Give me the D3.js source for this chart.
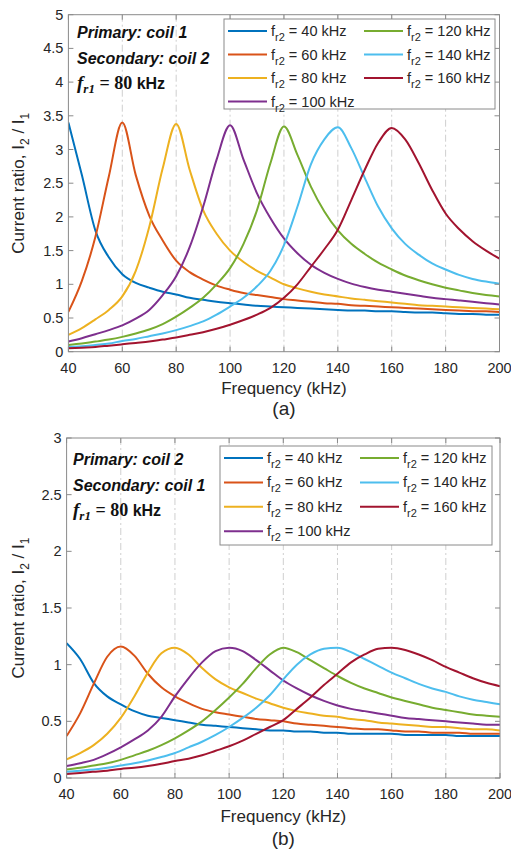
<!DOCTYPE html>
<html lang="en">
<head>
<meta charset="utf-8">
<title>Current ratio vs frequency</title>
<script src="https://cdn.jsdelivr.net/npm/d3@7"></script>
<style>
  body { margin: 0; background: #fff; }
  svg { display: block; font-family: "Liberation Sans", Arial, sans-serif; }
</style>
</head>
<body>
<div id="chart"></div>
<script>
// ---- data
const freq = [40,45,50,55,60,65,70,75,80,85,90,95,100,105,110,115,120,125,130,135,140,145,150,155,160,165,170,175,180,185,190,195,200];
const fr2 = [40, 60, 80, 100, 120, 140, 160];
const xTicks = [40, 60, 80, 100, 120, 140, 160, 180, 200];
const yTicksA = [0, 0.5, 1, 1.5, 2, 2.5, 3, 3.5, 4, 4.5, 5];
const yTicksB = [0, 0.5, 1, 1.5, 2, 2.5, 3];

// (a) primary coil 1, secondary coil 2
const a40  = [3.40,2.62,1.80,1.40,1.15,1.02,0.95,0.89,0.85,0.80,0.77,0.74,0.72,0.70,0.68,0.67,0.66,0.65,0.64,0.63,0.62,0.61,0.61,0.60,0.60,0.59,0.58,0.58,0.57,0.56,0.56,0.55,0.55];
const a60  = [0.59,1.05,1.70,2.60,3.40,2.62,2.02,1.65,1.35,1.18,1.07,0.98,0.92,0.87,0.84,0.81,0.78,0.76,0.74,0.72,0.71,0.69,0.68,0.67,0.66,0.65,0.64,0.63,0.62,0.61,0.60,0.60,0.59];
const a80  = [0.25,0.35,0.48,0.62,0.82,1.20,1.85,2.72,3.38,2.70,2.10,1.75,1.50,1.33,1.20,1.10,1.00,0.94,0.89,0.85,0.82,0.79,0.77,0.75,0.73,0.71,0.69,0.68,0.67,0.66,0.65,0.64,0.63];
const a100 = [0.15,0.20,0.26,0.32,0.39,0.49,0.62,0.84,1.12,1.55,2.15,2.85,3.36,2.85,2.35,1.98,1.68,1.46,1.29,1.17,1.08,1.01,0.96,0.92,0.89,0.86,0.83,0.80,0.78,0.76,0.74,0.72,0.70];
const a120 = [0.10,0.12,0.15,0.18,0.22,0.27,0.33,0.41,0.52,0.65,0.80,1.00,1.24,1.60,2.10,2.80,3.34,2.92,2.45,2.08,1.80,1.60,1.45,1.32,1.22,1.13,1.06,1.00,0.95,0.91,0.87,0.84,0.82];
const a140 = [0.07,0.08,0.10,0.12,0.16,0.19,0.23,0.27,0.32,0.38,0.45,0.55,0.67,0.80,0.97,1.20,1.58,2.15,2.78,3.15,3.33,3.02,2.58,2.15,1.83,1.60,1.44,1.31,1.22,1.14,1.08,1.04,1.01];
const a160 = [0.05,0.06,0.07,0.09,0.11,0.13,0.15,0.18,0.21,0.25,0.29,0.34,0.40,0.47,0.55,0.65,0.80,1.00,1.26,1.52,1.81,2.25,2.70,3.10,3.32,3.15,2.80,2.40,2.05,1.82,1.64,1.50,1.38];

// (b) primary coil 2, secondary coil 1
const b40  = [1.19,1.05,0.84,0.72,0.65,0.59,0.55,0.53,0.51,0.49,0.47,0.46,0.45,0.44,0.43,0.42,0.42,0.41,0.41,0.40,0.40,0.39,0.39,0.39,0.39,0.38,0.38,0.38,0.38,0.37,0.37,0.37,0.37];
const b60  = [0.37,0.57,0.83,1.07,1.16,1.08,0.92,0.80,0.72,0.66,0.61,0.58,0.56,0.54,0.52,0.51,0.50,0.48,0.47,0.46,0.45,0.44,0.43,0.43,0.42,0.41,0.41,0.40,0.40,0.40,0.39,0.39,0.39];
const b80  = [0.165,0.22,0.29,0.39,0.53,0.72,0.93,1.10,1.15,1.09,0.97,0.87,0.80,0.75,0.70,0.66,0.62,0.59,0.57,0.55,0.54,0.52,0.51,0.49,0.48,0.47,0.46,0.45,0.45,0.44,0.43,0.43,0.42];
const b100 = [0.105,0.13,0.16,0.21,0.27,0.34,0.42,0.54,0.72,0.88,1.02,1.12,1.15,1.12,1.04,0.95,0.86,0.79,0.73,0.68,0.64,0.61,0.59,0.57,0.55,0.53,0.52,0.51,0.50,0.49,0.48,0.47,0.47];
const b120 = [0.075,0.09,0.11,0.13,0.16,0.20,0.24,0.29,0.35,0.42,0.50,0.60,0.71,0.83,0.97,1.09,1.15,1.11,1.04,0.97,0.90,0.84,0.79,0.75,0.71,0.68,0.65,0.62,0.60,0.58,0.56,0.55,0.54];
const b140 = [0.055,0.065,0.075,0.09,0.11,0.13,0.155,0.185,0.22,0.27,0.32,0.38,0.45,0.53,0.62,0.73,0.87,1.00,1.09,1.14,1.15,1.11,1.05,0.99,0.93,0.88,0.83,0.79,0.76,0.72,0.69,0.67,0.65];
const b160 = [0.035,0.045,0.055,0.065,0.08,0.09,0.105,0.125,0.15,0.17,0.20,0.24,0.28,0.33,0.39,0.45,0.51,0.61,0.71,0.82,0.92,1.02,1.09,1.14,1.15,1.13,1.09,1.04,0.98,0.93,0.88,0.84,0.81];

const colors = ["#0072BD", "#D95319", "#EDB120", "#7E2F8E", "#77AC30", "#4DBEEE", "#A2142F"];

// ---- setup
const W = 511, H = 856;
const svg = d3.select("#chart").append("svg")
    .attr("width", W)
    .attr("height", H);

const textCol = "#262626";
const axisCol = "#8a8a8a";

drawPanel({
  id: "a", left: 68.4, right: 499.5, top: 14.7, bottom: 351.7,
  yMax: 5, yTicks: yTicksA, series: [a40, a60, a80, a100, a120, a140, a160],
  notes: ["Primary: coil 1", "Secondary: coil 2"], noteX: 77, noteY: 38,
  legend: { x: 224, y: 19, w: 271, h: 90, row: 23.5 },
  tag: "(a)", labelGap: 42, tagGap: 63
});

drawPanel({
  id: "b", left: 66.6, right: 500, top: 438, bottom: 778,
  yMax: 3, yTicks: yTicksB, series: [b40, b60, b80, b100, b120, b140, b160],
  notes: ["Primary: coil 2", "Secondary: coil 1"], noteX: 73, noteY: 465,
  legend: { x: 220, y: 446, w: 272, h: 99, row: 24.4 },
  tag: "(b)", labelGap: 44, tagGap: 67
});

// ---- functions
function drawPanel(p) {
  const x = d3.scaleLinear().domain([40, 200]).range([p.left, p.right]);
  const y = d3.scaleLinear().domain([0, p.yMax]).range([p.bottom, p.top]);
  const g = svg.append("g");

  // vertical dash-dot grid
  g.append("g").selectAll("line")
    .data(xTicks.slice(1, -1))
    .join("line")
    .attr("x1", d => x(d)).attr("x2", d => x(d))
    .attr("y1", p.top).attr("y2", p.bottom)
    .attr("stroke", "#cfcfcf")
    .attr("stroke-width", 1)
    .attr("stroke-dasharray", "7,3,2,3");

  // curves
  g.append("clipPath").attr("id", "clip-" + p.id)
    .append("rect")
    .attr("x", p.left).attr("y", p.top)
    .attr("width", p.right - p.left).attr("height", p.bottom - p.top);

  const line = d3.line()
    .x((d, i) => x(freq[i]))
    .y(d => y(d))
    .curve(d3.curveMonotoneX);

  g.append("g").attr("clip-path", `url(#clip-${p.id})`)
    .selectAll("path")
    .data(p.series)
    .join("path")
    .attr("fill", "none")
    .attr("stroke", (d, i) => colors[i])
    .attr("stroke-width", 2)
    .attr("d", line);

  // axes box with inward ticks on all sides
  const tl = 5;
  g.append("rect")
    .attr("x", p.left).attr("y", p.top)
    .attr("width", p.right - p.left).attr("height", p.bottom - p.top)
    .attr("fill", "none").attr("stroke", axisCol).attr("stroke-width", 1);

  const ticks = g.append("g").attr("stroke", axisCol).attr("stroke-width", 1);
  xTicks.forEach(t => {
    ticks.append("line").attr("x1", x(t)).attr("x2", x(t)).attr("y1", p.bottom).attr("y2", p.bottom - tl);
    ticks.append("line").attr("x1", x(t)).attr("x2", x(t)).attr("y1", p.top).attr("y2", p.top + tl);
  });
  p.yTicks.forEach(t => {
    ticks.append("line").attr("x1", p.left).attr("x2", p.left + tl).attr("y1", y(t)).attr("y2", y(t));
    ticks.append("line").attr("x1", p.right).attr("x2", p.right - tl).attr("y1", y(t)).attr("y2", y(t));
  });

  // tick labels
  g.append("g").selectAll("text")
    .data(xTicks)
    .join("text")
    .attr("x", d => x(d))
    .attr("y", p.bottom + 21)
    .attr("text-anchor", "middle")
    .attr("font-size", 14.5)
    .attr("fill", textCol)
    .text(d => d);

  g.append("g").selectAll("text")
    .data(p.yTicks)
    .join("text")
    .attr("x", p.left - 5)
    .attr("y", d => y(d))
    .attr("dy", "0.35em")
    .attr("text-anchor", "end")
    .attr("font-size", 14.5)
    .attr("fill", textCol)
    .text(d => d);

  // axis labels
  g.append("text")
    .attr("x", (p.left + p.right) / 2)
    .attr("y", p.bottom + p.labelGap)
    .attr("text-anchor", "middle")
    .attr("font-size", 17)
    .attr("fill", textCol)
    .text("Frequency (kHz)");

  const yl = g.append("text")
    .attr("transform", `translate(24,${(p.top + p.bottom) / 2}) rotate(-90)`)
    .attr("text-anchor", "middle")
    .attr("font-size", 17)
    .attr("fill", textCol);
  yl.append("tspan").text("Current ratio, I");
  yl.append("tspan").attr("font-size", 12).attr("dy", 5).text("2");
  yl.append("tspan").attr("dy", -5).text(" / I");
  yl.append("tspan").attr("font-size", 12).attr("dy", 5).text("1");

  g.append("text")
    .attr("x", (p.left + p.right) / 2)
    .attr("y", p.bottom + p.tagGap)
    .attr("text-anchor", "middle")
    .attr("font-size", 19)
    .attr("fill", textCol)
    .text(p.tag);

  // annotation
  const note = g.append("g")
    .attr("font-weight", "bold")
    .attr("font-style", "italic")
    .attr("font-size", 16)
    .attr("fill", "#111");
  p.notes.forEach((s, i) => {
    note.append("text").attr("x", p.noteX).attr("y", p.noteY + i * 25.5).text(s);
  });
  const fr = note.append("text").attr("x", p.noteX).attr("y", p.noteY + 51);
  fr.append("tspan").attr("font-family", "'Liberation Serif', 'DejaVu Serif', serif").attr("font-size", 19).text("f");
  fr.append("tspan").attr("font-family", "'Liberation Serif', 'DejaVu Serif', serif").attr("font-size", 13).attr("dy", 4).text("r1");
  fr.append("tspan").attr("font-family", "'Liberation Serif', serif").attr("font-style", "normal").attr("font-size", 18).attr("dy", -4).text(" = 80 ");
  fr.append("tspan").attr("font-style", "normal").attr("font-size", 16).text("kHz");

  // legend
  const L = p.legend;
  const lg = g.append("g");
  lg.append("rect")
    .attr("x", L.x).attr("y", L.y).attr("width", L.w).attr("height", L.h)
    .attr("fill", "#fff").attr("stroke", axisCol).attr("stroke-width", 1);

  const item = lg.selectAll("g.item")
    .data(fr2)
    .join("g")
    .attr("class", "item")
    .attr("transform", (d, i) => {
      const col = i < 4 ? 0 : 1, row = i < 4 ? i : i - 4;
      return `translate(${L.x + 4 + col * 136},${L.y + 12 + row * L.row})`;
    });
  item.append("line")
    .attr("x1", 0).attr("x2", 39).attr("y1", 0).attr("y2", 0)
    .attr("stroke", (d, i) => colors[i]).attr("stroke-width", 2);
  const lt = item.append("text")
    .attr("x", 43).attr("y", 0).attr("dy", "0.35em")
    .attr("font-size", 14.5).attr("fill", textCol);
  lt.append("tspan").text("f");
  lt.append("tspan").attr("font-size", 11).attr("dy", 5).text("r2");
  lt.append("tspan").attr("dy", -5).text(d => ` = ${d} kHz`);
}
</script>
</body>
</html>
